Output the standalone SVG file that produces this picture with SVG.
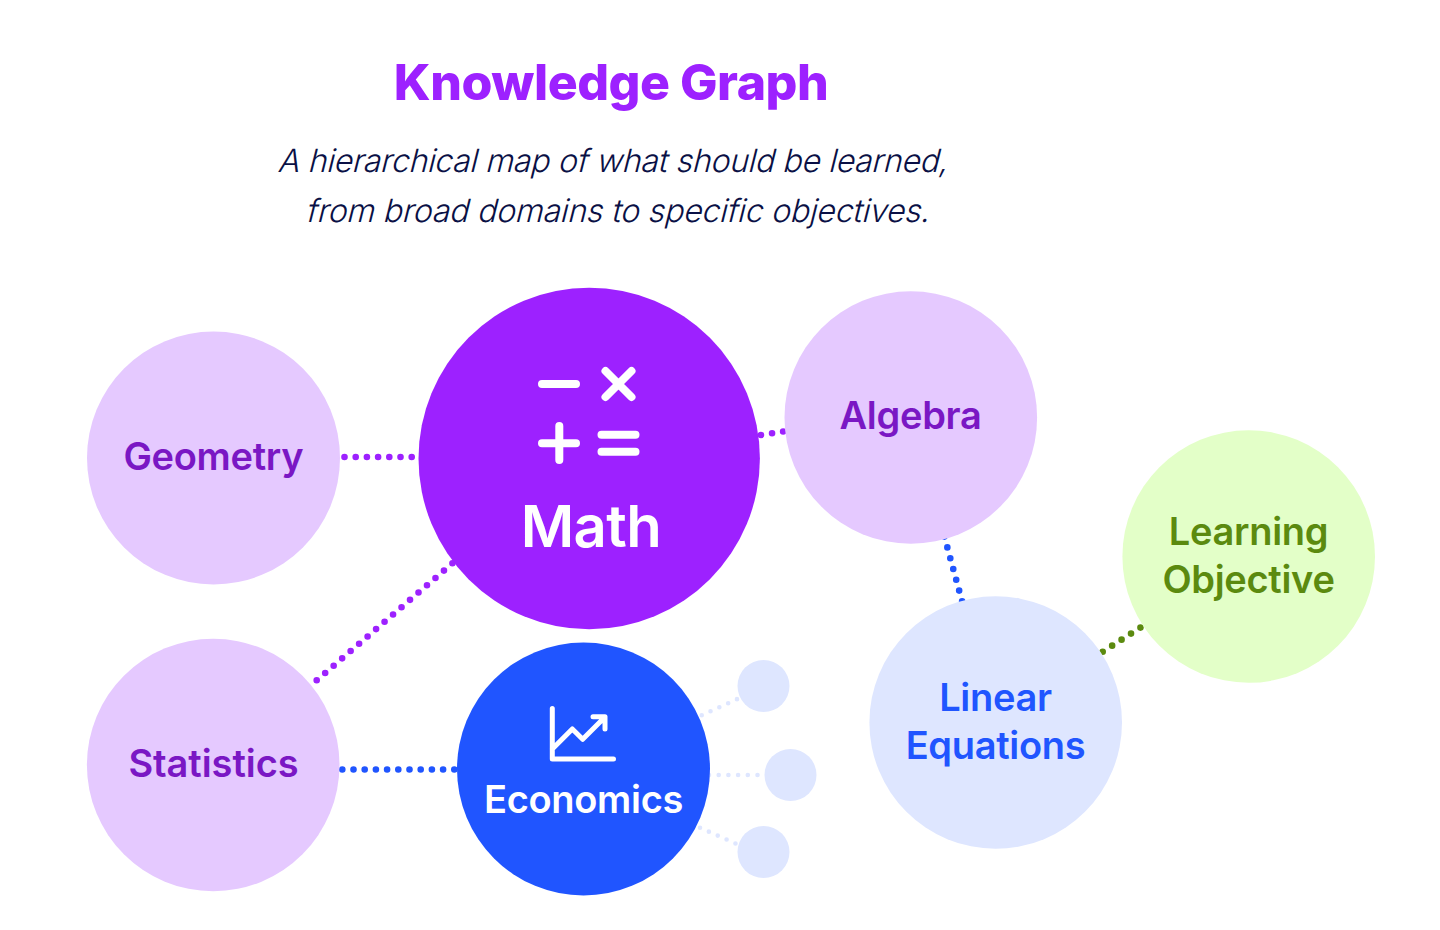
<svg xmlns="http://www.w3.org/2000/svg" width="1440" height="930" viewBox="0 0 1440 930">
<style>
text{font-family:Inter,"Liberation Sans",sans-serif;text-anchor:middle}
.t{font-weight:600;font-size:38px;letter-spacing:-.3px}
.p{fill:#7a17c4}
.b{fill:#2055ff}
.g{fill:#5b8a0f}
.w{fill:#fff}
.sub{font-weight:350;font-size:32px;fill:#0a1045}
.c{fill:none;stroke-linecap:round}
.d{stroke-width:6.6;stroke-dasharray:0 11.2}
.l{stroke-width:4.6;stroke-dasharray:0 9.7;stroke:#dee6ff}
.i{fill:none;stroke:#fff;stroke-linecap:round;stroke-linejoin:round}
</style>
<rect width="1440" height="930" fill="#fff"/>
<g id="title">
<text x="611" y="100" font-size="50" font-weight="800" letter-spacing="-.5" fill="#9d21ff">Knowledge Graph</text>
<text class="sub" style="letter-spacing:-.29px" transform="translate(612 172) skewX(-14)">A hierarchical map of what should be learned,</text>
<text class="sub" style="letter-spacing:-.19px" transform="translate(617 222) skewX(-14)">from broad domains to specific objectives.</text>
</g>
<g id="connectors">
<path class="c d" stroke="#9d21ff" d="M344.5 457H420"/>
<path class="c d" stroke="#9d21ff" d="M316.7 680.3L460 556.8"/>
<path class="c d" stroke="#9d21ff" d="M761 435L795 429.6"/>
<path class="c d" stroke="#2055ff" d="M342.3 769.5H460"/>
<path class="c d" stroke="#2055ff" d="M944.4 536.6L965 612"/>
<path class="c d" stroke="#5b8a0f" d="M1102.7 651.7L1150 621.5"/>
<path class="c l" d="M701.7 715.3L745 695.5"/>
<path class="c l" d="M709 775H770"/>
<path class="c l" d="M700 827.7L745 847.7"/>
</g>
<g id="math">
<circle cx="589.2" cy="458.5" r="170.7" fill="#9d21ff"/>
<path class="i" stroke-width="8" d="M542 384H576M605.5 371L631.5 397M631.5 371L605.5 397M542 443.3H576M559.3 426V460M601.5 434.7H635.5M601.5 451.7H635.5"/>
<text class="w" x="591" y="547" font-size="58" font-weight="600" letter-spacing="-.58">Math</text>
</g>
<g id="geometry"><circle cx="213.5" cy="458" r="126.5" fill="#e5c9ff"/><text class="t p" x="213.3" y="470">Geometry</text></g>
<g id="algebra"><circle cx="910.8" cy="417.5" r="126.3" fill="#e5c9ff"/><text class="t p" x="910.5" y="429">Algebra</text></g>
<g id="statistics"><circle cx="213.2" cy="765" r="126.3" fill="#e5c9ff"/><text class="t p" x="213.5" y="777" style="letter-spacing:-.05px">Statistics</text></g>
<g id="economics">
<circle cx="583.5" cy="769" r="126.5" fill="#2055ff"/>
<path class="i" stroke-width="5" d="M552.3 708.5V759H613.5M552.3 749L572.3 729L582.7 739.3L605 717M593 716.7H605V729"/>
<text class="t w" x="583.5" y="813">Economics</text>
</g>
<g id="linear"><circle cx="995.7" cy="722.5" r="126.3" fill="#dee6ff"/><text class="t b" x="995.5" y="711">Linear</text><text class="t b" x="995.5" y="759">Equations</text></g>
<g id="objective"><circle cx="1248.7" cy="556.5" r="126.3" fill="#e3ffc8"/><text class="t g" x="1248.5" y="545">Learning</text><text class="t g" x="1248.5" y="593">Objective</text></g>
<g id="leaf1"><circle cx="763.5" cy="686" r="26" fill="#dee6ff"/></g>
<g id="leaf2"><circle cx="790.5" cy="775" r="26" fill="#dee6ff"/></g>
<g id="leaf3"><circle cx="763.5" cy="852" r="26" fill="#dee6ff"/></g>
</svg>
